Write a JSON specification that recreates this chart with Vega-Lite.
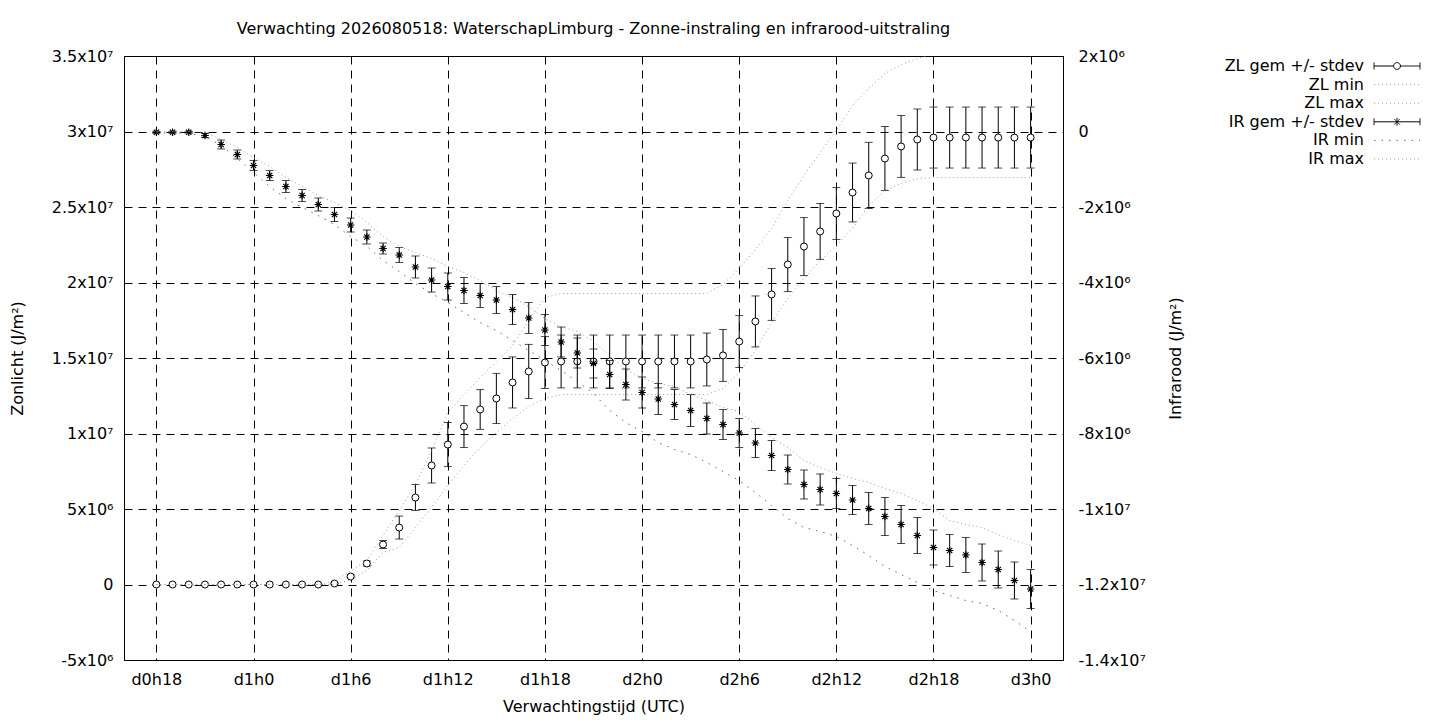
{
  "$schema": "https://vega.github.io/schema/vega-lite/v6.json",
  "autosize": {"type": "none"},
  "padding": {"left": 124, "top": 56, "right": 377, "bottom": 60},
  "width": 939,
  "height": 604,
  "title": {
    "text": "Verwachting 2026080518: WaterschapLimburg - Zonne-instraling en infrarood-uitstraling",
    "frame": "group",
    "fontSize": 16,
    "fontWeight": "normal",
    "color": "black",
    "offset": 11
  },
  "data": {
    "values": [
      {"h": 18, "zl": 0, "zlsd": 0, "zlmin": 0, "zlmax": 0, "ir": -20000, "irsd": 26000, "irmin": -40000, "irmax": 0},
      {"h": 19, "zl": 0, "zlsd": 0, "zlmin": 0, "zlmax": 0, "ir": -20000, "irsd": 26000, "irmin": -40000, "irmax": 0},
      {"h": 20, "zl": 0, "zlsd": 0, "zlmin": 0, "zlmax": 0, "ir": -20000, "irsd": 26000, "irmin": -50000, "irmax": 0},
      {"h": 21, "zl": 0, "zlsd": 0, "zlmin": 0, "zlmax": 0, "ir": -106000, "irsd": 53000, "irmin": -130000, "irmax": -26000},
      {"h": 22, "zl": 0, "zlsd": 0, "zlmin": 0, "zlmax": 0, "ir": -344000, "irsd": 119000, "irmin": -371000, "irmax": -212000},
      {"h": 23, "zl": 0, "zlsd": 0, "zlmin": 0, "zlmax": 0, "ir": -609000, "irsd": 119000, "irmin": -715000, "irmax": -424000},
      {"h": 24, "zl": 0, "zlsd": 0, "zlmin": 0, "zlmax": 0, "ir": -900000, "irsd": 132000, "irmin": -1086000, "irmax": -689000},
      {"h": 25, "zl": 0, "zlsd": 0, "zlmin": 0, "zlmax": 0, "ir": -1166000, "irsd": 132000, "irmin": -1457000, "irmax": -927000},
      {"h": 26, "zl": 0, "zlsd": 0, "zlmin": 0, "zlmax": 0, "ir": -1457000, "irsd": 159000, "irmin": -1775000, "irmax": -1219000},
      {"h": 27, "zl": 0, "zlsd": 0, "zlmin": 0, "zlmax": 0, "ir": -1695000, "irsd": 159000, "irmin": -2013000, "irmax": -1457000},
      {"h": 28, "zl": 0, "zlsd": 0, "zlmin": 0, "zlmax": 0, "ir": -1934000, "irsd": 172000, "irmin": -2225000, "irmax": -1695000},
      {"h": 29, "zl": 66000, "zlsd": 33000, "zlmin": 0, "zlmax": 200000, "ir": -2199000, "irsd": 185000, "irmin": -2464000, "irmax": -1881000},
      {"h": 30, "zl": 530000, "zlsd": 100000, "zlmin": 300000, "zlmax": 900000, "ir": -2477000, "irsd": 185000, "irmin": -2781000, "irmax": -2093000},
      {"h": 31, "zl": 1390000, "zlsd": 166000, "zlmin": 930000, "zlmax": 1590000, "ir": -2795000, "irsd": 185000, "irmin": -3046000, "irmax": -2411000},
      {"h": 32, "zl": 2650000, "zlsd": 265000, "zlmin": 2120000, "zlmax": 3250000, "ir": -3099000, "irsd": 146000, "irmin": -3417000, "irmax": -2781000},
      {"h": 33, "zl": 3770000, "zlsd": 760000, "zlmin": 2450000, "zlmax": 4900000, "ir": -3272000, "irsd": 199000, "irmin": -3709000, "irmax": -3046000},
      {"h": 34, "zl": 5760000, "zlsd": 860000, "zlmin": 3780000, "zlmax": 6620000, "ir": -3589000, "irsd": 291000, "irmin": -4026000, "irmax": -3205000},
      {"h": 35, "zl": 7880000, "zlsd": 1160000, "zlmin": 5100000, "zlmax": 8870000, "ir": -3934000, "irsd": 318000, "irmin": -4291000, "irmax": -3364000},
      {"h": 36, "zl": 9270000, "zlsd": 1460000, "zlmin": 6560000, "zlmax": 11390000, "ir": -4106000, "irsd": 358000, "irmin": -4530000, "irmax": -3576000},
      {"h": 37, "zl": 10460000, "zlsd": 1390000, "zlmin": 7880000, "zlmax": 12580000, "ir": -4212000, "irsd": 344000, "irmin": -4795000, "irmax": -3735000},
      {"h": 38, "zl": 11590000, "zlsd": 1320000, "zlmin": 9070000, "zlmax": 13710000, "ir": -4344000, "irsd": 318000, "irmin": -5060000, "irmax": -3947000},
      {"h": 39, "zl": 12320000, "zlsd": 1660000, "zlmin": 10060000, "zlmax": 14770000, "ir": -4464000, "irsd": 358000, "irmin": -5272000, "irmax": -4212000},
      {"h": 40, "zl": 13380000, "zlsd": 1690000, "zlmin": 10990000, "zlmax": 15830000, "ir": -4715000, "irsd": 397000, "irmin": -5536000, "irmax": -4397000},
      {"h": 41, "zl": 14110000, "zlsd": 1790000, "zlmin": 11790000, "zlmax": 17480000, "ir": -4940000, "irsd": 411000, "irmin": -5801000, "irmax": -4636000},
      {"h": 42, "zl": 14700000, "zlsd": 1720000, "zlmin": 12320000, "zlmax": 19010000, "ir": -5258000, "irsd": 411000, "irmin": -6066000, "irmax": -4954000},
      {"h": 43, "zl": 14770000, "zlsd": 1750000, "zlmin": 12580000, "zlmax": 19270000, "ir": -5576000, "irsd": 397000, "irmin": -6331000, "irmax": -5166000},
      {"h": 44, "zl": 14770000, "zlsd": 1750000, "zlmin": 12580000, "zlmax": 19270000, "ir": -5868000, "irsd": 397000, "irmin": -6623000, "irmax": -5298000},
      {"h": 45, "zl": 14770000, "zlsd": 1750000, "zlmin": 12580000, "zlmax": 19270000, "ir": -6146000, "irsd": 384000, "irmin": -6940000, "irmax": -5560000},
      {"h": 46, "zl": 14770000, "zlsd": 1750000, "zlmin": 12580000, "zlmax": 19270000, "ir": -6437000, "irsd": 371000, "irmin": -7391000, "irmax": -5934000},
      {"h": 47, "zl": 14770000, "zlsd": 1750000, "zlmin": 12580000, "zlmax": 19270000, "ir": -6702000, "irsd": 411000, "irmin": -7709000, "irmax": -6305000},
      {"h": 48, "zl": 14770000, "zlsd": 1750000, "zlmin": 12580000, "zlmax": 19270000, "ir": -6914000, "irsd": 411000, "irmin": -7947000, "irmax": -6543000},
      {"h": 49, "zl": 14770000, "zlsd": 1750000, "zlmin": 12580000, "zlmax": 19270000, "ir": -7086000, "irsd": 411000, "irmin": -8238000, "irmax": -6675000},
      {"h": 50, "zl": 14770000, "zlsd": 1750000, "zlmin": 12580000, "zlmax": 19270000, "ir": -7232000, "irsd": 397000, "irmin": -8424000, "irmax": -6755000},
      {"h": 51, "zl": 14770000, "zlsd": 1750000, "zlmin": 12580000, "zlmax": 19270000, "ir": -7391000, "irsd": 424000, "irmin": -8556000, "irmax": -6967000},
      {"h": 52, "zl": 14900000, "zlsd": 1750000, "zlmin": 12580000, "zlmax": 19270000, "ir": -7603000, "irsd": 411000, "irmin": -8768000, "irmax": -7126000},
      {"h": 53, "zl": 15170000, "zlsd": 1720000, "zlmin": 12980000, "zlmax": 19870000, "ir": -7762000, "irsd": 397000, "irmin": -9007000, "irmax": -7311000},
      {"h": 54, "zl": 16090000, "zlsd": 1720000, "zlmin": 14040000, "zlmax": 20930000, "ir": -7987000, "irsd": 384000, "irmin": -9245000, "irmax": -7417000},
      {"h": 55, "zl": 17420000, "zlsd": 1690000, "zlmin": 15500000, "zlmax": 22190000, "ir": -8252000, "irsd": 384000, "irmin": -9563000, "irmax": -7762000},
      {"h": 56, "zl": 19210000, "zlsd": 1720000, "zlmin": 17350000, "zlmax": 23580000, "ir": -8583000, "irsd": 397000, "irmin": -9907000, "irmax": -8106000},
      {"h": 57, "zl": 21190000, "zlsd": 1790000, "zlmin": 18940000, "zlmax": 25430000, "ir": -8954000, "irsd": 384000, "irmin": -10251000, "irmax": -8371000},
      {"h": 58, "zl": 22380000, "zlsd": 1920000, "zlmin": 20260000, "zlmax": 27090000, "ir": -9351000, "irsd": 384000, "irmin": -10490000, "irmax": -8715000},
      {"h": 59, "zl": 23380000, "zlsd": 1850000, "zlmin": 21460000, "zlmax": 28610000, "ir": -9483000, "irsd": 411000, "irmin": -10596000, "irmax": -8901000},
      {"h": 60, "zl": 24570000, "zlsd": 1720000, "zlmin": 22450000, "zlmax": 30070000, "ir": -9589000, "irsd": 397000, "irmin": -10728000, "irmax": -9060000},
      {"h": 61, "zl": 25960000, "zlsd": 1950000, "zlmin": 23580000, "zlmax": 31720000, "ir": -9761000, "irsd": 384000, "irmin": -10967000, "irmax": -9192000},
      {"h": 62, "zl": 27090000, "zlsd": 2190000, "zlmin": 25100000, "zlmax": 32850000, "ir": -9987000, "irsd": 424000, "irmin": -11232000, "irmax": -9298000},
      {"h": 63, "zl": 28210000, "zlsd": 2120000, "zlmin": 26090000, "zlmax": 33840000, "ir": -10199000, "irsd": 503000, "irmin": -11523000, "irmax": -9457000},
      {"h": 64, "zl": 29010000, "zlsd": 2050000, "zlmin": 26560000, "zlmax": 34440000, "ir": -10411000, "irsd": 503000, "irmin": -11735000, "irmax": -9589000},
      {"h": 65, "zl": 29470000, "zlsd": 2020000, "zlmin": 26890000, "zlmax": 34830000, "ir": -10702000, "irsd": 477000, "irmin": -11947000, "irmax": -9775000},
      {"h": 66, "zl": 29600000, "zlsd": 2020000, "zlmin": 26950000, "zlmax": 35170000, "ir": -11020000, "irsd": 464000, "irmin": -12159000, "irmax": -9987000},
      {"h": 67, "zl": 29600000, "zlsd": 2020000, "zlmin": 26950000, "zlmax": 35400000, "ir": -11099000, "irsd": 424000, "irmin": -12291000, "irmax": -10304000},
      {"h": 68, "zl": 29600000, "zlsd": 2020000, "zlmin": 26950000, "zlmax": 35400000, "ir": -11218000, "irsd": 464000, "irmin": -12424000, "irmax": -10411000},
      {"h": 69, "zl": 29600000, "zlsd": 2020000, "zlmin": 26950000, "zlmax": 35400000, "ir": -11417000, "irsd": 490000, "irmin": -12503000, "irmax": -10490000},
      {"h": 70, "zl": 29600000, "zlsd": 2020000, "zlmin": 26950000, "zlmax": 35400000, "ir": -11603000, "irsd": 490000, "irmin": -12689000, "irmax": -10675000},
      {"h": 71, "zl": 29600000, "zlsd": 2020000, "zlmin": 26950000, "zlmax": 35400000, "ir": -11894000, "irsd": 490000, "irmin": -12954000, "irmax": -10834000},
      {"h": 72, "zl": 29600000, "zlsd": 2020000, "zlmin": 26950000, "zlmax": 35400000, "ir": -12119000, "irsd": 517000, "irmin": -13245000, "irmax": -10967000}
    ]
  },
  "encoding": {
    "x": {
      "field": "h",
      "type": "quantitative",
      "scale": {"domain": [16, 74], "nice": false, "zero": false},
      "axis": {
        "values": [18, 24, 30, 36, 42, 48, 54, 60, 66, 72],
        "labelExpr": "'d' + floor(datum.value / 24) + 'h' + (datum.value % 24)",
        "title": "Verwachtingstijd (UTC)",
        "grid": true,
        "labelPadding": 11,
        "titlePadding": 11
      }
    }
  },
  "layer": [
    {
      "encoding": {
        "y": {
          "field": "zl",
          "type": "quantitative",
          "scale": {"domain": [-5000000, 35000000], "nice": false, "zero": false},
          "axis": {
            "orient": "left",
            "values": [-5000000, 0, 5000000, 10000000, 15000000, 20000000, 25000000, 30000000, 35000000],
            "labelExpr": "datum.value == 0 ? '0' : abs(datum.value) >= 9999999 ? (datum.value / 10000000) + 'x10⁷' : (datum.value / 1000000) + 'x10⁶'",
            "title": "Zonlicht (J/m²)",
            "grid": true,
            "labelPadding": 11,
            "titlePadding": 26
          }
        }
      },
      "layer": [
        {
          "mark": {"type": "errorbar", "ticks": true, "size": 8, "thickness": 1, "color": "black"},
          "encoding": {"yError": {"field": "zlsd"}}
        },
        {
          "mark": {"type": "point", "shape": "circle", "size": 49, "fill": "white", "stroke": "black", "strokeWidth": 1, "opacity": 1}
        },
        {
          "mark": {"type": "line", "color": "#9a9a9a", "strokeWidth": 1, "strokeDash": [1, 3], "clip": true},
          "encoding": {"y": {"field": "zlmin", "type": "quantitative"}}
        },
        {
          "mark": {"type": "line", "color": "#9a9a9a", "strokeWidth": 1, "strokeDash": [1, 3], "clip": true},
          "encoding": {"y": {"field": "zlmax", "type": "quantitative"}}
        },
        {
          "transform": [{"filter": "false"}],
          "mark": {"type": "point", "filled": false, "opacity": 1, "strokeWidth": 1},
          "encoding": {
            "shape": {
              "field": "s",
              "type": "nominal",
              "scale": {
                "domain": ["ZL gem +/- stdev", "ZL min", "ZL max", "IR gem +/- stdev", "IR min", "IR max"],
                "range": [
                  "M-2.5,0H-0.37M0.37,0H2.5M-2.5,-0.38V0.38M2.5,-0.38V0.38M0.37,0A0.37,0.37,0,1,1,-0.37,0A0.37,0.37,0,1,1,0.37,0",
                  "M-2.5,0H2.5",
                  "M-2.5,0H2.5",
                  "M-2.5,0H2.5M-2.5,-0.38V0.38M2.5,-0.38V0.38M0,-0.43V0.43M-0.3,-0.3L0.3,0.3M-0.3,0.3L0.3,-0.3",
                  "M-2.5,0H2.5",
                  "M-2.5,0H2.5"
                ]
              },
              "legend": {
                "title": null,
                "orient": "none",
                "legendX": 1263,
                "legendY": 0,
                "padding": 0,
                "symbolSize": 338,
                "symbolOffset": 0,
                "symbolStrokeWidth": 1,
                "rowPadding": 0.6,
                "labelAlign": "right",
                "labelOffset": -43,
                "labelFontSize": 16,
                "labelColor": "black",
                "labelLimit": 400
              }
            },
            "stroke": {
              "field": "s",
              "type": "nominal",
              "scale": {
                "domain": ["ZL gem +/- stdev", "ZL min", "ZL max", "IR gem +/- stdev", "IR min", "IR max"],
                "range": ["black", "#9a9a9a", "#9a9a9a", "black", "#666666", "#9a9a9a"]
              }
            },
            "strokeDash": {
              "field": "s",
              "type": "nominal",
              "scale": {
                "domain": ["ZL gem +/- stdev", "ZL min", "ZL max", "IR gem +/- stdev", "IR min", "IR max"],
                "range": [[1, 0], [1, 3], [1, 3], [1, 0], [1.5, 6], [1, 3]]
              }
            }
          }
        }
      ]
    },
    {
      "encoding": {
        "y": {
          "field": "ir",
          "type": "quantitative",
          "scale": {"domain": [-14000000, 2000000], "nice": false, "zero": false},
          "axis": {
            "orient": "right",
            "values": [-14000000, -12000000, -10000000, -8000000, -6000000, -4000000, -2000000, 0, 2000000],
            "labelExpr": "datum.value == 0 ? '0' : abs(datum.value) >= 9999999 ? (datum.value / 10000000) + 'x10⁷' : (datum.value / 1000000) + 'x10⁶'",
            "title": "Infrarood (J/m²)",
            "titleAngle": 270,
            "titleBaseline": "top",
            "grid": false,
            "labelPadding": 15,
            "titlePadding": 22
          }
        }
      },
      "layer": [
        {
          "mark": {"type": "errorbar", "ticks": true, "size": 8, "thickness": 1, "color": "black"},
          "encoding": {"yError": {"field": "irsd"}}
        },
        {
          "mark": {"type": "point", "shape": "M-1,0H1M0,-1V1M-0.7,-0.7L0.7,0.7M-0.7,0.7L0.7,-0.7", "size": 56, "filled": false, "stroke": "black", "strokeWidth": 1.2, "opacity": 1}
        },
        {
          "mark": {"type": "line", "color": "#666666", "strokeWidth": 1, "strokeDash": [1.5, 6], "clip": true},
          "encoding": {"y": {"field": "irmin", "type": "quantitative"}}
        },
        {
          "mark": {"type": "line", "color": "#9a9a9a", "strokeWidth": 1, "strokeDash": [1, 3], "clip": true},
          "encoding": {"y": {"field": "irmax", "type": "quantitative"}}
        }
      ]
    }
  ],
  "resolve": {"scale": {"y": "independent"}},
  "config": {
    "font": "DejaVu Sans",
    "view": {"stroke": "black", "strokeWidth": 1},
    "axis": {
      "labelFontSize": 16,
      "titleFontSize": 16,
      "titleFontWeight": "normal",
      "labelColor": "black",
      "titleColor": "black",
      "ticks": false,
      "tickSize": 0,
      "domain": false,
      "gridColor": "black",
      "gridOpacity": 1,
      "gridDash": [8, 6],
      "gridWidth": 1,
      "labelFlush": false,
      "labelOverlap": false
    }
  }
}
